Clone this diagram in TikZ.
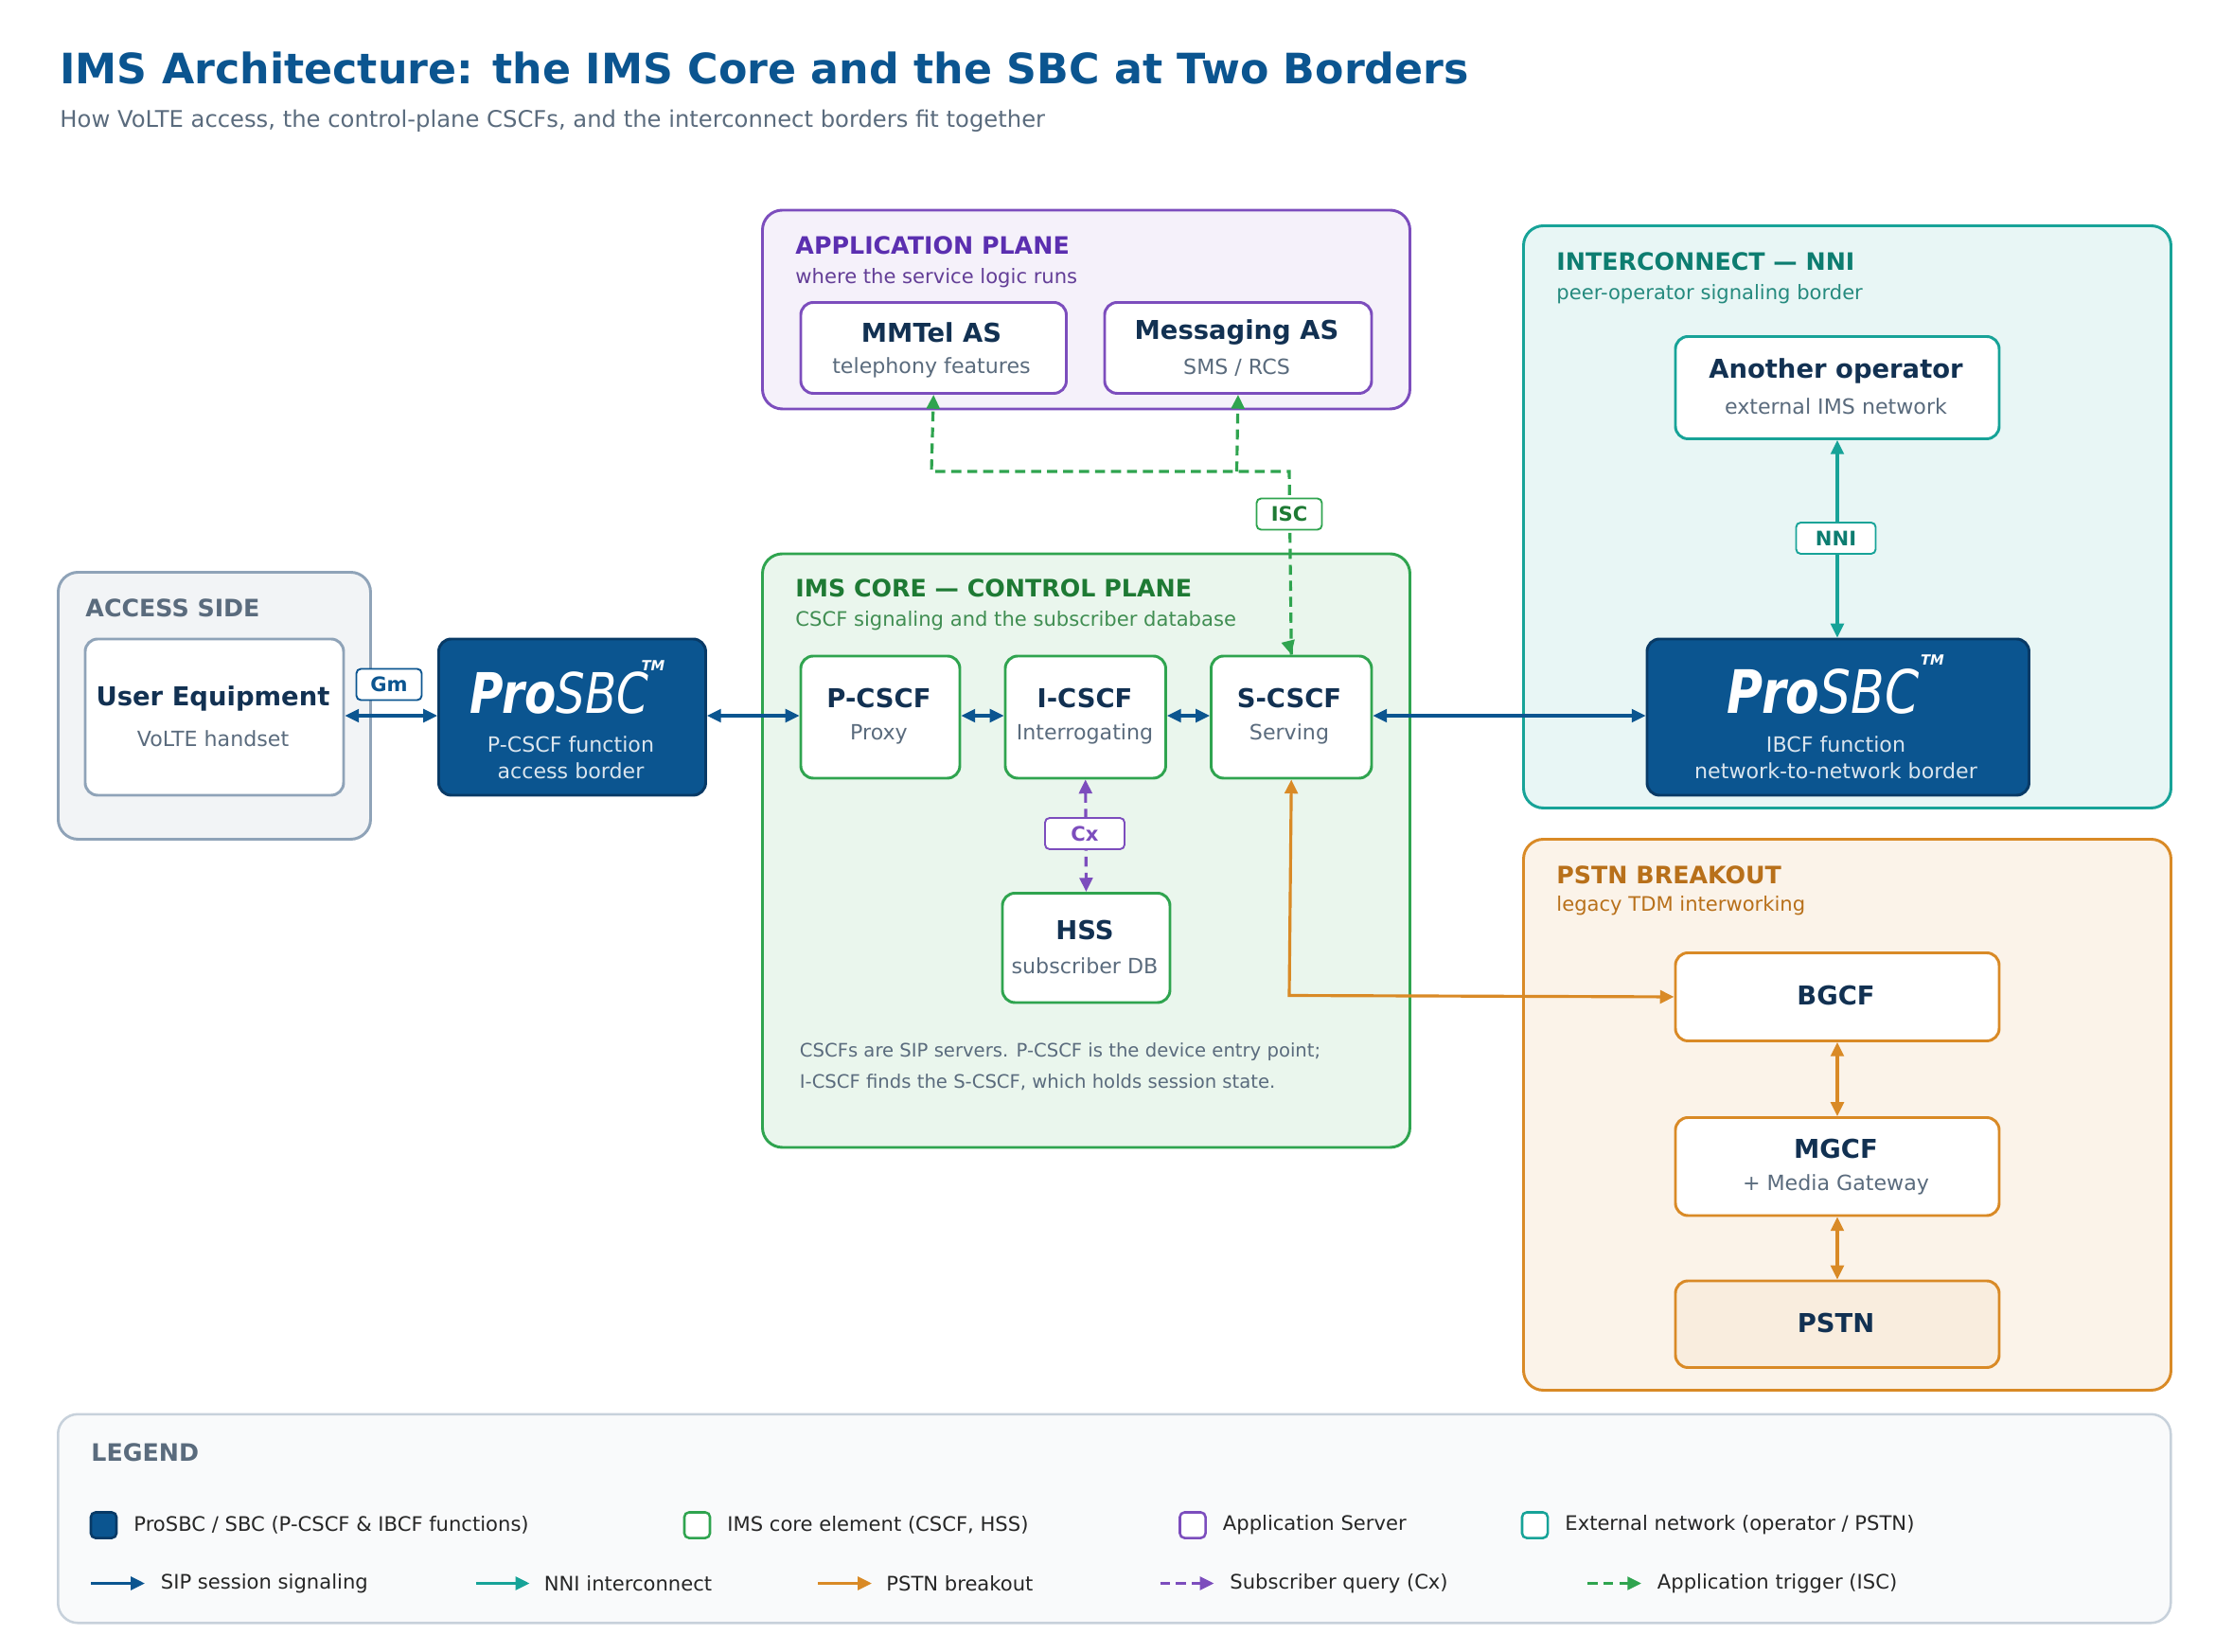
\documentclass[tikz,border=0pt]{standalone}
\usepackage{fontspec}
\setmainfont{DejaVu Sans}
\usetikzlibrary{arrows.meta}
\definecolor{navy}{HTML}{0B5590}
\definecolor{navyd}{HTML}{083A66}
\definecolor{ink}{HTML}{123152}
\definecolor{sub}{HTML}{5A6B7D}
\definecolor{grn}{HTML}{2FA44F}
\definecolor{grnt}{HTML}{1E7A34}
\definecolor{pur}{HTML}{7C4DBD}
\definecolor{purt}{HTML}{5B2FB0}
\definecolor{tea}{HTML}{17A398}
\definecolor{teat}{HTML}{0D7D70}
\definecolor{org}{HTML}{D98A26}
\definecolor{orgt}{HTML}{B8701A}
\definecolor{gry}{HTML}{8FA3B8}
\begin{document}
\begin{tikzpicture}[x=0.025cm,y=-0.025cm,
 every node/.style={inner sep=0pt},
 sz/.style 2 args={minimum width=#1*0.025cm, minimum height=#2*0.025cm, anchor=north west},
 grp/.style 2 args={draw=#1, fill=#2, line width=1.4pt, rounded corners=0.35cm},
 box/.style={draw=#1, fill=white, line width=1.4pt, rounded corners=0.22cm},
 ttl/.style={font=\bfseries\fontsize{13}{15}\selectfont, text=ink},
 st/.style={font=\fontsize{10.5}{12}\selectfont, text=sub},
 gt/.style={anchor=west,font=\bfseries\fontsize{12}{14}\selectfont, text=#1},
 gs/.style={anchor=west,font=\fontsize{10}{12}\selectfont, text=#1},
 lab/.style={draw=#1, fill=white, line width=0.9pt, rounded corners=0.08cm, text=#1, font=\bfseries\fontsize{10}{12}\selectfont, minimum width=1.15cm, minimum height=0.55cm},
 con/.style={draw=#1, line width=1.5pt, {Triangle[length=7pt,width=6.5pt]}-{Triangle[length=7pt,width=6.5pt]}},
 lt/.style={anchor=west,font=\fontsize{10}{12}\selectfont, text=black!85}
]
\useasboundingbox (0,0) rectangle (1560,1163);
\fill[white] (0,0) rectangle (1560,1163);
% title
\node[anchor=west,font=\bfseries\fontsize{21}{25}\selectfont,text=navy] at (42,48) {IMS Architecture: the IMS Core and the SBC at Two Borders};
\node[anchor=west,font=\fontsize{11.5}{14}\selectfont,text=sub] at (42,85) {How VoLTE access, the control-plane CSCFs, and the interconnect borders fit together};

% groups
\node[grp={gry}{gry!12}, sz={220}{188}] (gacc) at (40,402) {};
\node[gt=sub] at (60,428) {ACCESS SIDE};
\node[grp={pur}{pur!8}, sz={456}{140}] (gapp) at (536,147) {};
\node[gt=purt] at (560,173) {APPLICATION PLANE};
\node[gs=pur!80!black] at (560,196) {where the service logic runs};
\node[grp={grn}{grn!10}, sz={456}{418}] (gcore) at (536,389) {};
\node[gt=grnt] at (560,414) {IMS CORE — CONTROL PLANE};
\node[gs=grnt!85] at (560,437) {CSCF signaling and the subscriber database};
\node[grp={tea}{tea!10}, sz={456}{410}] (gnni) at (1072,158) {};
\node[gt=teat] at (1096,184) {INTERCONNECT — NNI};
\node[gs=teat!90] at (1096,207) {peer-operator signaling border};
\node[grp={org}{org!10}, sz={456}{388}] (gpstn) at (1072,590) {};
\node[gt=orgt] at (1096,616) {PSTN BREAKOUT};
\node[gs=orgt] at (1096,638) {legacy TDM interworking};

% nodes
\node[box=gry, sz={182}{110}] (ue) at (59,449) {};
\node[ttl] at (150,492) {User Equipment};
\node[st] at (150,520) {VoLTE handset};

\node[draw=navyd, fill=navy, line width=1.4pt, rounded corners=0.22cm, sz={188}{110}] (sbc1) at (308,449) {};
\node[text=white] at (394,488) {\scalebox{0.82}[1]{\fontsize{28}{30}\selectfont{\bfseries\itshape Pro}{\itshape SBC}}};
\node[text=white,font=\bfseries\itshape\fontsize{7}{8}\selectfont] at (460,469) {TM};
\node[text=white!85!navy,font=\fontsize{10.5}{12}\selectfont] at (402,524) {P-CSCF function};
\node[text=white!85!navy,font=\fontsize{10.5}{12}\selectfont] at (402,543) {access border};

\node[box=pur, sz={187}{64}] (mmtel) at (563,212) {};
\node[ttl] at (656,234) {MMTel AS};
\node[st] at (656,259) {telephony features};
\node[box=pur, sz={188}{64}] (msg) at (777,212) {};
\node[ttl] at (871,234) {Messaging AS};
\node[st] at (871,259) {SMS / RCS};

\node[box=grn, sz={112}{86}] (pc) at (563,461) {};
\node[ttl] at (619,492) {P-CSCF};
\node[st] at (619,517) {Proxy};
\node[box=grn, sz={113}{86}] (ic) at (707,461) {};
\node[ttl] at (764,492) {I-CSCF};
\node[st] at (764,517) {Interrogating};
\node[box=grn, sz={113}{86}] (sc) at (852,461) {};
\node[ttl] at (908,492) {S-CSCF};
\node[st] at (908,517) {Serving};
\node[box=grn, sz={118}{77}] (hss) at (705,628) {};
\node[ttl] at (764,655) {HSS};
\node[st] at (764,680) {subscriber DB};
\node[anchor=west,font=\fontsize{9.3}{11}\selectfont,text=sub] at (563,741) {CSCFs are SIP servers. P-CSCF is the device entry point;};
\node[anchor=west,font=\fontsize{9.3}{11}\selectfont,text=sub] at (563,762) {I-CSCF finds the S-CSCF, which holds session state.};

\node[box=tea, sz={228}{72}] (op) at (1179,236) {};
\node[ttl] at (1293,261) {Another operator};
\node[st] at (1293,286) {external IMS network};
\node[draw=navyd, fill=navy, line width=1.4pt, rounded corners=0.22cm, sz={269}{110}] (sbc2) at (1159,449) {};
\node[text=white] at (1284,487) {\scalebox{0.82}[1]{\fontsize{30}{32}\selectfont{\bfseries\itshape Pro}{\itshape SBC}}};
\node[text=white,font=\bfseries\itshape\fontsize{7}{8}\selectfont] at (1361,465) {TM};
\node[text=white!85!navy,font=\fontsize{10.5}{12}\selectfont] at (1293,524) {IBCF function};
\node[text=white!85!navy,font=\fontsize{10.5}{12}\selectfont] at (1293,543) {network-to-network border};

\node[box=org, sz={228}{62}] (bgcf) at (1179,670) {};
\node[ttl] at (1293,701) {BGCF};
\node[box=org, sz={228}{69}] (mgcf) at (1179,786) {};
\node[ttl] at (1293,809) {MGCF};
\node[st] at (1293,834) {+ Media Gateway};
\node[box=org, fill=org!15, sz={228}{61}] (pstn) at (1179,901) {};
\node[ttl] at (1293,932) {PSTN};

% connectors
\coordinate (c1) at (908,332); \coordinate (c2) at (871,332); \coordinate (c3) at (656,332);
\draw[grn, line width=1.5pt, dash pattern=on 5pt off 3pt, -{Triangle[length=7pt,width=6.5pt]}] (sc.north) -- (c1) -- (c3) -- (mmtel.south);
\draw[grn, line width=1.5pt, dash pattern=on 5pt off 3pt, -{Triangle[length=7pt,width=6.5pt]}] (c2) -- (msg.south);
\draw[grn, line width=1.5pt, -{Triangle[length=7pt,width=6.5pt]}] (908,455) -- (sc.north);
\node[lab=grnt, draw=grn] at (908,362) {ISC};

\draw[con=navy] (ue.east |- 0,504) -- (sbc1.west |- 0,504);
\node[lab=navy] at (274,482) {Gm};
\draw[con=navy] (sbc1.east |- 0,504) -- (pc.west |- 0,504);
\draw[con=navy] (pc.east |- 0,504) -- (ic.west |- 0,504);
\draw[con=navy] (ic.east |- 0,504) -- (sc.west |- 0,504);
\draw[con=navy] (sc.east |- 0,504) -- (sbc2.west |- 0,504);

\draw[pur, line width=1.5pt, dash pattern=on 5pt off 3pt, {Triangle[length=7pt,width=6.5pt]}-{Triangle[length=7pt,width=6.5pt]}] (ic.south) -- (hss.north);
\node[lab=pur, minimum width=1.4cm] at (764,587) {Cx};

\draw[con=tea] (op.south) -- (sbc2.north -| op.south);
\node[lab=teat, draw=tea, minimum width=1.4cm] at (1293,379) {NNI};

\draw[con=org] (sc.south) -- (908,701) -- (bgcf.west);
\draw[con=org] (bgcf.south) -- (mgcf.north);
\draw[con=org] (mgcf.south) -- (pstn.north);

% legend
\node[draw=gry!50, fill=gry!5, line width=1.2pt, rounded corners=0.35cm, sz={1488}{147}] (leg) at (40,995) {};
\node[gt=sub] at (64,1023) {LEGEND};
\node[draw=navyd, fill=navy, line width=1.2pt, rounded corners=0.08cm, minimum size=0.45cm] (k1) at (73,1074) {};
\node[lt] at (94,1074) {ProSBC / SBC (P-CSCF \& IBCF functions)};
\node[draw=grn, fill=white, line width=1.2pt, rounded corners=0.08cm, minimum size=0.45cm] (k2) at (491,1074) {};
\node[lt] at (512,1074) {IMS core element (CSCF, HSS)};
\node[draw=pur, fill=white, line width=1.2pt, rounded corners=0.08cm, minimum size=0.45cm] (k3) at (840,1074) {};
\node[lt] at (861,1074) {Application Server};
\node[draw=tea, fill=white, line width=1.2pt, rounded corners=0.08cm, minimum size=0.45cm] (k4) at (1081,1074) {};
\node[lt] at (1102,1074) {External network (operator / PSTN)};
\coordinate (l1a) at (64,1115); \coordinate (l1b) at (102,1115);
\coordinate (l2a) at (335,1115); \coordinate (l2b) at (373,1115);
\coordinate (l3a) at (576,1115); \coordinate (l3b) at (614,1115);
\coordinate (l4a) at (817,1115); \coordinate (l4b) at (855,1115);
\coordinate (l5a) at (1118,1115); \coordinate (l5b) at (1156,1115);
\draw[navy, line width=1.5pt, -{Triangle[length=7pt,width=6.5pt]}] (l1a) -- (l1b);
\draw[tea, line width=1.5pt, -{Triangle[length=7pt,width=6.5pt]}] (l2a) -- (l2b);
\draw[org, line width=1.5pt, -{Triangle[length=7pt,width=6.5pt]}] (l3a) -- (l3b);
\draw[pur, line width=1.5pt, dash pattern=on 5pt off 3pt, -{Triangle[length=7pt,width=6.5pt]}] (l4a) -- (l4b);
\draw[grn, line width=1.5pt, dash pattern=on 5pt off 3pt, -{Triangle[length=7pt,width=6.5pt]}] (l5a) -- (l5b);
\node[lt] at (113,1115) {SIP session signaling};
\node[lt] at (383,1115) {NNI interconnect};
\node[lt] at (624,1115) {PSTN breakout};
\node[lt] at (866,1115) {Subscriber query (Cx)};
\node[lt] at (1167,1115) {Application trigger (ISC)};
\end{tikzpicture}
\end{document}
